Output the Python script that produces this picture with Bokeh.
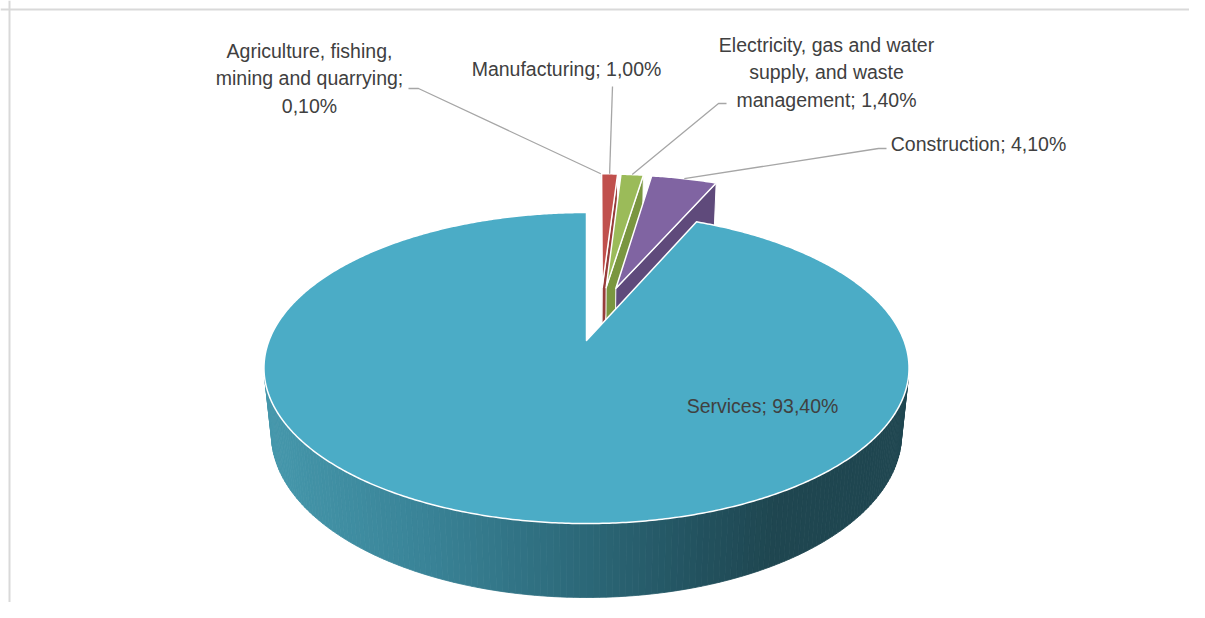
import numpy as np
from bokeh.plotting import figure
from bokeh.models import Range1d, Span
from bokeh.core.properties import value
from bokeh.embed import file_html
from bokeh.resources import INLINE

# ---------------- data ----------------
sectors = ["Agriculture, fishing, mining and quarrying", "Manufacturing",
           "Electricity, gas and water supply, and waste management",
           "Construction", "Services"]
shares = [0.1, 1.0, 1.4, 4.1, 93.4]
label_names = ["Agriculture, fishing,\nmining and quarrying", "Manufacturing",
               "Electricity, gas and water\nsupply, and waste\nmanagement",
               "Construction", "Services"]
label_sep = ["\n", " ", " ", " ", " "]

# ---------------- style / layout ----------------
top_colors = ["#4F81BD", "#C0504D", "#9BBB59", "#8064A2", "#4BACC6"]
cut_colors = ["#3A5F8C", "#973C3A", "#7A9640", "#5F4A7B", "#2B6676"]
W, H = 1189, 602
CX, CY = 586.0, 340.0
F, D, COS, SIN = 1578.6, 4.973, 0.8802, 0.4746
THICK = 0.2388
explode = [0.38, 0.38, 0.38, 0.38, 0.0]
explode_dir = [8, 8, 10, 15, 0]
label_pos = [(309, 78), (566, 68), (826, 72), (978, 143), (762, 405)]
leader_start = [[(408, 88), (418, 88)], [(612, 86)], [(726, 103), (718, 103)],
                [(886, 148), (878, 148)], None]
FONT = "Liberation Sans"


def proj(x, y, z):
    depth = D + y * COS - z * SIN
    sx = CX + x * F / depth
    sy = CY - (y * SIN + z * COS) * F / depth
    return sx, sy


def rim(theta_deg, ex, ey, z, r=1.0):
    t = np.radians(theta_deg)
    return proj(ex + r * np.sin(t), ey + r * np.cos(t), z)


p = figure(width=W, height=H, output_backend="svg", toolbar_location=None,
           x_range=Range1d(0, W), y_range=Range1d(H, 0),
           min_border=0)
p.axis.visible = False
p.grid.visible = False
p.outline_line_color = None
p.background_fill_color = "white"

p.add_layout(Span(location=9, dimension="width", line_color="#D9D9D9", line_width=2))
p.add_layout(Span(location=9, dimension="height", line_color="#D9D9D9", line_width=2))

cum = np.concatenate([[0], np.cumsum(shares)]) / sum(shares) * 360.0

pxs, pys, pfill, pline, pwidth = [], [], [], [], []


def add(poly, fill, line, width):
    xs, ys = zip(*poly)
    pxs.append(list(xs)); pys.append(list(ys))
    pfill.append(fill); pline.append(line); pwidth.append(width)


stop_x = [263, 420, 586, 700, 780, 910]
stop_r = [70, 58, 44, 35, 31, 31]
stop_g = [152, 132, 104, 82, 70, 70]
stop_b = [172, 152, 120, 95, 80, 80]


def side_color(sx):
    r = int(np.interp(sx, stop_x, stop_r))
    g = int(np.interp(sx, stop_x, stop_g))
    b = int(np.interp(sx, stop_x, stop_b))
    return "#%02x%02x%02x" % (r, g, b)


vis_lo = np.degrees(np.arccos(-1.0 / (D * COS)))
vis_hi = 360 - vis_lo

anchors = []
for i in range(len(shares)):
    a, b = cum[i], cum[i + 1]
    dr = np.radians(explode_dir[i])
    ex, ey = explode[i] * np.sin(dr), explode[i] * np.cos(dr)
    n = max(3, int((b - a) / 0.5) + 2)
    th = np.linspace(a, b, n)
    v_top = proj(ex, ey, 0)
    v_bot = proj(ex, ey, -THICK)
    lo, hi = max(a, vis_lo), min(b, vis_hi)
    if hi > lo:
        ts = np.linspace(lo, hi, int(hi - lo) + 2)
        for t0, t1 in zip(ts[:-1], ts[1:]):
            q = [rim(t0, ex, ey, 0), rim(t1, ex, ey, 0),
                 rim(t1, ex, ey, -THICK), rim(t0, ex, ey, -THICK)]
            c = side_color((q[0][0] + q[1][0]) / 2)
            add(q, c, c, 0.8)
    if i < len(shares) - 1:
        q = [v_top, rim(b, ex, ey, 0), rim(b, ex, ey, -THICK), v_bot]
        add(q, cut_colors[i], "white", 1.0)
    top = [v_top] + [rim(t, ex, ey, 0) for t in th]
    add(top, top_colors[i], "white", 1.5)
    anchors.append(rim((a + b) / 2, ex, ey, 0))

p.patches(xs=pxs, ys=pys, fill_color=pfill, line_color=pline, line_width=pwidth,
          line_join="round")

lx, ly = [], []
for i in range(len(shares)):
    if leader_start[i] is None:
        continue
    pts = leader_start[i] + [anchors[i]]
    lx.append([q[0] for q in pts]); ly.append([q[1] for q in pts])
p.multi_line(xs=lx, ys=ly, line_color="#A6A6A6", line_width=1.3)

labels = [(label_names[i] + ";" + label_sep[i] + ("%.2f%%" % shares[i]).replace(".", ","))
          for i in range(len(shares))]
p.text(x=[q[0] for q in label_pos], y=[q[1] for q in label_pos], text=labels,
       text_font=value(FONT), text_font_size="19.5px", text_color="#404040",
       text_align="center", text_baseline="middle", text_line_height=1.27)

open("out.html", "w").write(file_html(p, INLINE))
